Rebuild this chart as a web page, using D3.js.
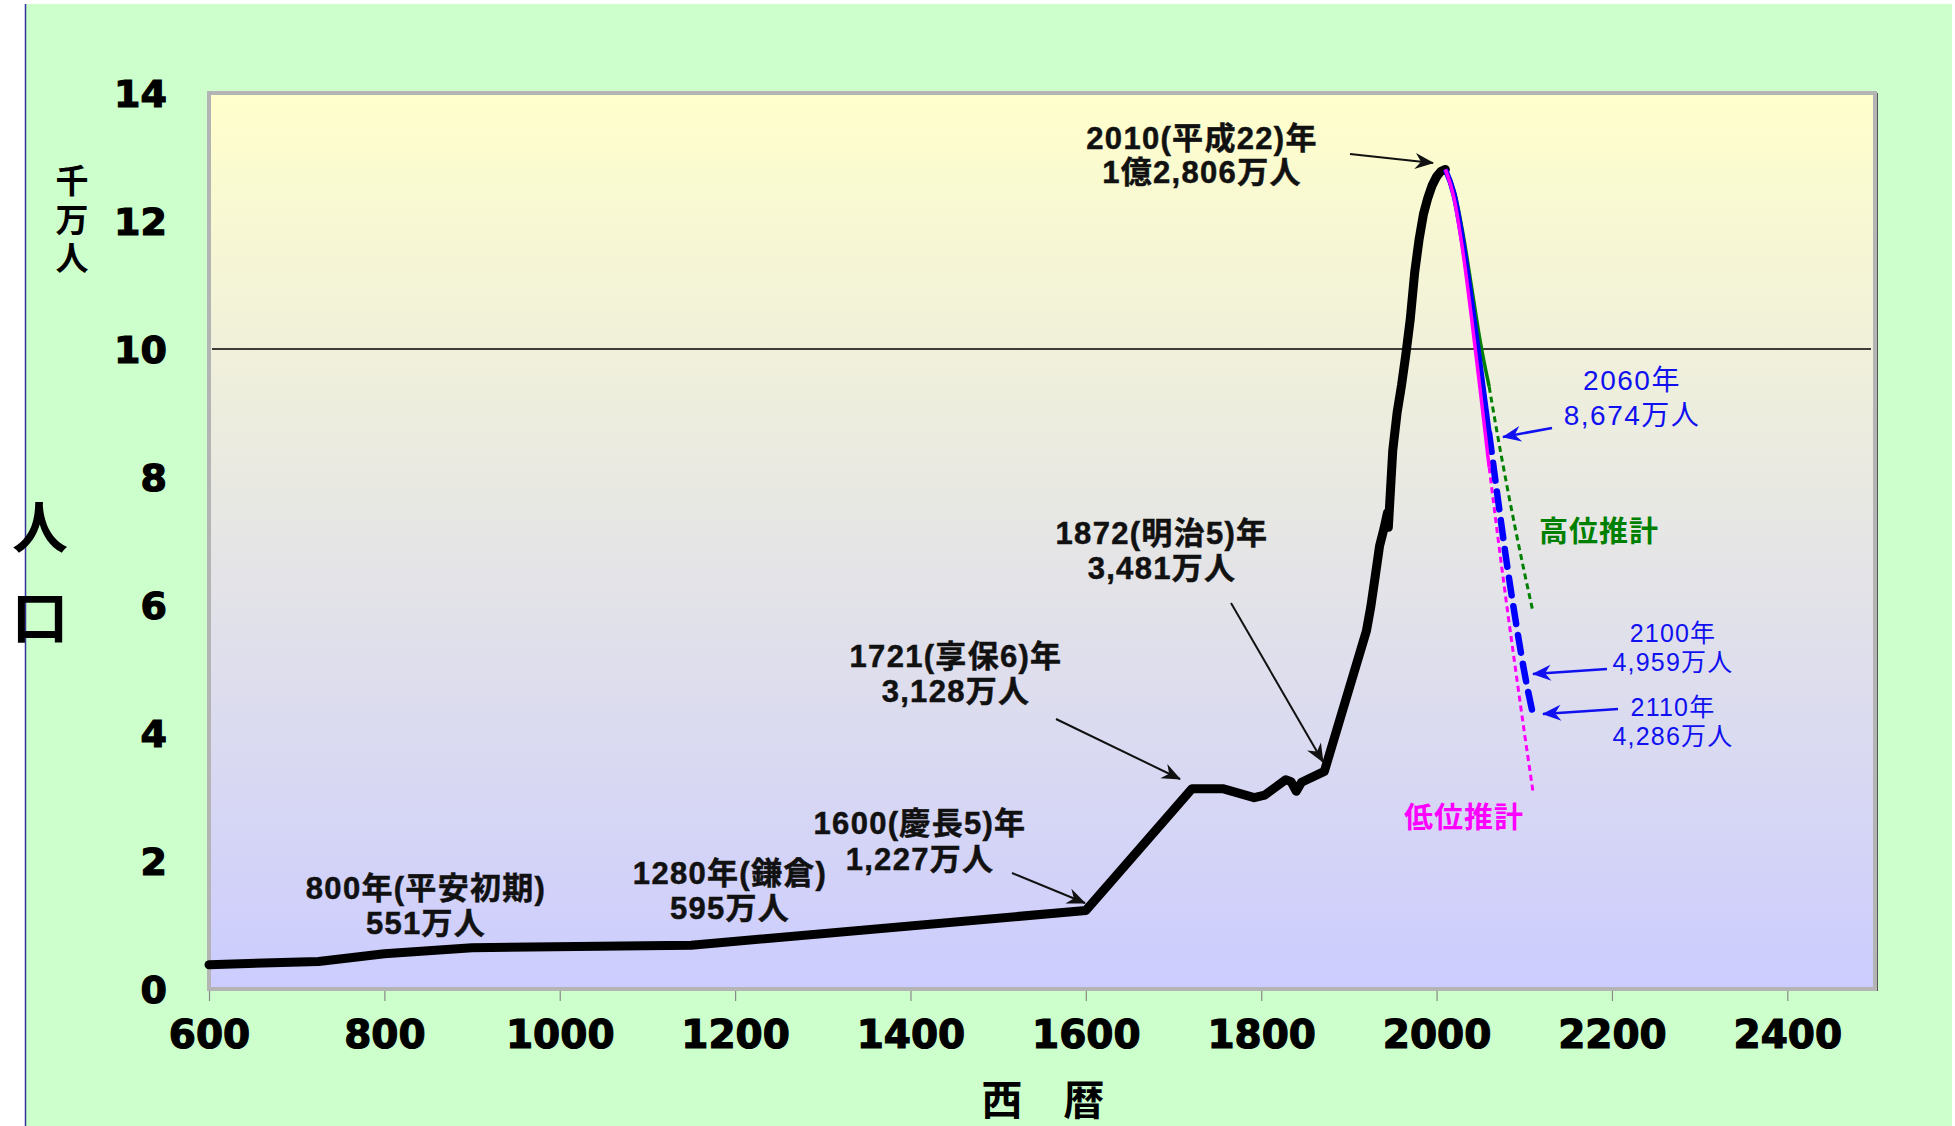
<!DOCTYPE html>
<html><head><meta charset="utf-8">
<script src="https://cdn.jsdelivr.net/npm/d3@7"></script>
<style>
html,body{margin:0;padding:0;background:#fff;}
svg{display:block;}
</style></head>
<body>
<svg id="chart" width="1955" height="1126"></svg>
<script>
// ---------- data ----------
const histYears = [600, 725, 800, 900, 1150, 1600, 1721, 1756, 1792, 1804, 1828, 1834, 1840, 1846, 1872,
  1920, 1925, 1930, 1935, 1940, 1944, 1945, 1950, 1955, 1960, 1965, 1970, 1975, 1980, 1985, 1990, 1995, 2000, 2005, 2010];
const histPop = [0.38, 0.43, 0.551, 0.644, 0.684, 1.227, 3.128, 3.13, 2.99, 3.03, 3.27, 3.24, 3.09, 3.23, 3.40,
  5.596, 5.974, 6.445, 6.925, 7.193, 7.443, 7.215, 8.412, 9.008, 9.430, 9.921, 10.467, 11.194, 11.706, 12.105, 12.361, 12.557, 12.693, 12.777, 12.806];

const projSolidYears = [2010, 2020, 2030, 2040, 2050, 2060];
const projDashYears = [2060, 2070, 2080, 2090, 2100, 2110];
const medSolid = [12.806, 12.410, 11.662, 10.728, 9.708, 8.674];
const medDash = [8.674, 7.65, 6.66, 5.77, 4.959, 4.286];
const highSolid = [12.806, 12.47, 11.81, 10.96, 10.10, 9.41];
const highDash = [9.41, 8.62, 7.88, 7.18, 6.52, 5.89];
const lowSolid = [12.806, 12.35, 11.52, 10.47, 9.33, 8.15];
const lowDash = [8.15, 7.05, 6.00, 5.00, 4.02, 3.08];

const xTicks = [600, 800, 1000, 1200, 1400, 1600, 1800, 2000, 2200, 2400];
const yTicks = [0, 2, 4, 6, 8, 10, 12, 14];
const gridValues = [10];

const blackNotes = [
  ["2010(平成22)年", "1億2,806万人"],
  ["800年(平安初期)", "551万人"],
  ["1280年(鎌倉)", "595万人"],
  ["1600(慶長5)年", "1,227万人"],
  ["1721(享保6)年", "3,128万人"],
  ["1872(明治5)年", "3,481万人"]
];
const blueNotes = [
  ["2060年", "8,674万人"],
  ["2100年", "4,959万人"],
  ["2110年", "4,286万人"]
];
const highLabel = "高位推計";
const lowLabel = "低位推計";
const yUnitLabel = ["千", "万", "人"];
const yTitle = ["人", "口"];
const xTitle = "西　暦";

// ---------- layout ----------
const W = 1955, H = 1126;
const P = {left: 209, right: 1875, top: 93, bottom: 989};
const svg = d3.select("#chart");
const x = d3.scaleLinear().domain([600, 2500]).range([P.left, P.right]);
const y = d3.scaleLinear().domain([0, 14]).range([P.bottom, P.top]);

const defs = svg.append("defs");
const grad = defs.append("linearGradient").attr("id", "plotGrad").attr("x1", 0).attr("y1", 0).attr("x2", 0).attr("y2", 1);
grad.append("stop").attr("offset", "0%").attr("stop-color", "#FFFFCC");
grad.append("stop").attr("offset", "100%").attr("stop-color", "#CCCCFF");

function marker(id, color) {
  defs.append("marker").attr("id", id)
    .attr("markerUnits", "userSpaceOnUse")
    .attr("viewBox", "-20 -10 22 20")
    .attr("refX", 0).attr("refY", 0)
    .attr("markerWidth", 22).attr("markerHeight", 20)
    .attr("orient", "auto")
    .append("path").attr("d", "M1,0 L-18,-8 L-12,0 L-18,8 Z").attr("fill", color);
}
marker("arrBlack", "#111");
marker("arrBlue", "#1010F0");

// background
svg.append("rect").attr("x", 0).attr("y", 0).attr("width", W).attr("height", H).attr("fill", "#fff");
svg.append("rect").attr("x", 25).attr("y", 4).attr("width", W - 28).attr("height", H - 4).attr("fill", "#CCFFCC");
svg.append("line").attr("x1", 25.5).attr("x2", 25.5).attr("y1", 4).attr("y2", H).attr("stroke", "#333399").attr("stroke-width", 1.5);

// plot area
svg.append("rect").attr("x", P.left).attr("y", P.top).attr("width", P.right - P.left).attr("height", P.bottom - P.top)
  .attr("fill", "url(#plotGrad)").attr("stroke", "#B4B4B4").attr("stroke-width", 4);
svg.append("line").attr("x1", P.right + 2.5).attr("x2", P.right + 2.5).attr("y1", P.top).attr("y2", P.bottom + 2)
  .attr("stroke", "#555").attr("stroke-width", 1);

// gridline
svg.selectAll(".grid").data(gridValues).enter().append("line")
  .attr("x1", P.left + 3).attr("x2", P.right - 4)
  .attr("y1", d => y(d)).attr("y2", d => y(d))
  .attr("stroke", "#000").attr("stroke-width", 1.5);

// x axis
const xAxis = d3.axisBottom(x).tickValues(xTicks).tickSize(10).tickPadding(17).tickFormat(d3.format("d"));
const gx = svg.append("g").attr("transform", `translate(0,${P.bottom + 2})`).call(xAxis);
gx.select(".domain").remove();
gx.selectAll(".tick line").attr("stroke", "#888").attr("stroke-width", 1.2);
gx.selectAll(".tick text").attr("font-family", "'DejaVu Sans', sans-serif").attr("font-weight", "bold")
  .attr("font-size", 39).attr("fill", "#000").attr("stroke", "#000").attr("stroke-width", 1.2).attr("dy", "0.78em");

// y axis
const yAxis = d3.axisLeft(y).tickValues(yTicks).tickSize(0).tickPadding(0).tickFormat(d3.format("d"));
const gy = svg.append("g").attr("transform", `translate(167,0)`).call(yAxis);
gy.select(".domain").remove();
gy.selectAll(".tick text").attr("font-family", "'DejaVu Sans', sans-serif").attr("font-weight", "bold")
  .attr("font-size", 38).attr("fill", "#000").attr("stroke", "#000").attr("stroke-width", 1.2).attr("dy", "0.36em");

// lines
const lineGen = (xs) => d3.line().x((d, i) => x(xs[i])).y(d => y(d));
const smooth = (xs) => d3.line().x((d, i) => x(xs[i])).y(d => y(d)).curve(d3.curveMonotoneX);

svg.append("path").datum(histPop).attr("d", lineGen(histYears))
  .attr("fill", "none").attr("stroke", "#000").attr("stroke-width", 9)
  .attr("stroke-linejoin", "round").attr("stroke-linecap", "round");

// projections
svg.append("path").datum(highDash).attr("d", smooth(projDashYears))
  .attr("fill", "none").attr("stroke", "#008000").attr("stroke-width", 3).attr("stroke-dasharray", "6,4");
svg.append("path").datum(lowDash).attr("d", smooth(projDashYears))
  .attr("fill", "none").attr("stroke", "#FF00FF").attr("stroke-width", 3).attr("stroke-dasharray", "6,4");
svg.append("path").datum(medDash).attr("d", smooth(projDashYears))
  .attr("fill", "none").attr("stroke", "#0000FF").attr("stroke-width", 6.5).attr("stroke-linecap", "round").attr("stroke-dasharray", "18,11");
svg.append("path").datum(highSolid).attr("d", smooth(projSolidYears))
  .attr("fill", "none").attr("stroke", "#008000").attr("stroke-width", 3.5);
svg.append("path").datum(medSolid).attr("d", smooth(projSolidYears))
  .attr("fill", "none").attr("stroke", "#0000FF").attr("stroke-width", 5.5);
svg.append("path").datum(lowSolid).attr("d", smooth(projSolidYears))
  .attr("fill", "none").attr("stroke", "#FF00FF").attr("stroke-width", 3.5);

// ---------- annotations ----------
const FONT = "'Liberation Sans', Arial, 'Noto Sans CJK JP', sans-serif";
function twoLine(lines, cx, y1, y2, opts) {
  [[lines[0], y1], [lines[1], y2]].forEach(([t, yy]) => {
    svg.append("text").attr("x", cx).attr("y", yy + opts.size * opts.off)
      .attr("text-anchor", "middle").attr("font-family", FONT)
      .attr("font-size", opts.size).attr("font-weight", opts.weight)
      .attr("letter-spacing", opts.ls).attr("fill", opts.color)
      .attr("stroke", opts.stroke || "none").attr("stroke-width", opts.sw || 0).text(t);
  });
}
const blackStyle = {size: 31, weight: "bold", ls: 1.3, color: "#111", stroke: "#111", sw: 0.5, off: 0.28};
const blackPos = [[1202, 140, 174], [426, 890, 925], [730, 875, 910], [920, 825, 861], [956, 658, 693], [1162, 535, 570]];
blackNotes.forEach((n, i) => twoLine(n, blackPos[i][0], blackPos[i][1], blackPos[i][2], blackStyle));

const blueStyles = [{size: 28, weight: "normal", ls: 1.5, color: "#1010F0", off: 0.36},
                    {size: 25, weight: "normal", ls: 1.2, color: "#1010F0", off: 0.36},
                    {size: 25, weight: "normal", ls: 1.2, color: "#1010F0", off: 0.36}];
const bluePos = [[1632, 380, 415], [1673, 633, 662], [1673, 707, 736]];
blueNotes.forEach((n, i) => twoLine(n, bluePos[i][0], bluePos[i][1], bluePos[i][2], blueStyles[i]));

function arrow(x1, y1, x2, y2, color, id, w) {
  svg.append("line").attr("x1", x1).attr("y1", y1).attr("x2", x2).attr("y2", y2)
    .attr("stroke", color).attr("stroke-width", w).attr("marker-end", `url(#${id})`);
}
const blackArrows = [[1350, 154, 1433, 163], [1012, 873, 1085, 903], [1056, 719, 1180, 779], [1231, 603, 1323, 762]];
blackArrows.forEach(a => arrow(a[0], a[1], a[2], a[3], "#111", "arrBlack", 2));
const blueArrows = [[1552, 428, 1503, 437], [1607, 669, 1533, 674], [1618, 709, 1543, 714]];
blueArrows.forEach(a => arrow(a[0], a[1], a[2], a[3], "#1010F0", "arrBlue", 2.5));

svg.append("text").attr("x", 1599).attr("y", 532 + 10).attr("text-anchor", "middle").attr("font-family", FONT)
  .attr("font-size", 29).attr("font-weight", "bold").attr("letter-spacing", 1).attr("fill", "#008000").text(highLabel);
svg.append("text").attr("x", 1464).attr("y", 818 + 10).attr("text-anchor", "middle").attr("font-family", FONT)
  .attr("font-size", 29).attr("font-weight", "bold").attr("letter-spacing", 1).attr("fill", "#FF00FF").text(lowLabel);

// axis titles
yUnitLabel.forEach((c, i) => {
  svg.append("text").attr("x", 72).attr("y", 181 + i * 38.5 + 12).attr("text-anchor", "middle")
    .attr("font-family", FONT).attr("font-size", 33).attr("font-weight", "bold").attr("fill", "#000").text(c);
});
yTitle.forEach((c, i) => {
  svg.append("text").attr("x", 40).attr("y", 528 + i * 90 + 20).attr("text-anchor", "middle")
    .attr("font-family", FONT).attr("font-size", 56).attr("font-weight", "bold").attr("fill", "#000").text(c);
});
svg.append("text").attr("x", 1043).attr("y", 1100 + 15).attr("text-anchor", "middle")
  .attr("font-family", FONT).attr("font-size", 41).attr("font-weight", "bold").attr("fill", "#000").text(xTitle);
</script>
</body></html>
